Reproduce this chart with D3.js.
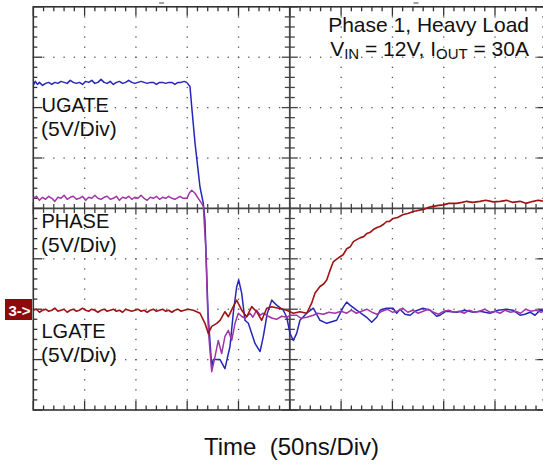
<!DOCTYPE html>
<html>
<head>
<meta charset="utf-8">
<script src="https://cdn.jsdelivr.net/npm/d3@7"></script>
<style>
  html, body { margin: 0; padding: 0; background: #fff; }
  svg { display: block; }
  text { font-family: "Liberation Sans", Arial, Helvetica, sans-serif; fill: #111; }
</style>
</head>
<body>
<svg id="chart" width="543" height="464"></svg>
<script>
// ---- Data (time in ns, display voltage in V at 5 V/div) ----
const ugate = [
  [0,12.2],[2,12.6],[4,12.3],[6,12.5],[9,12.2],[12,12.4],[15,12.5],[18,12.3],[21,12.5],[24,12.4],
  [27,12.6],[30,12.5],[33,12.4],[36,12.7],[39,12.5],[42,12.4],[45,12.5],[48,12.3],[51,12.6],[54,12.5],
  [57,12.7],[60,12.4],[63,12.5],[66,12.8],[69,12.5],[72,12.4],[75,12.6],[78,12.3],[81,12.5],[84,12.6],
  [87,12.4],[90,12.5],[93,12.7],[96,12.5],[99,12.4],[102,12.5],[105,12.6],[108,12.5],[111,12.4],[114,12.5],
  [117,12.5],[120,12.3],[123,12.5],[126,12.5],[129,12.4],[132,12.5],[135,12.5],[138,12.3],[141,12.5],
  [144,12.5],[147,12.6],[149.5,12.5],[152.7,12.1],[154.4,10.1],[157.6,6.5],[162.5,2.1],[165.7,0.5],
  [167.3,-1.2],[170.3,-10.4],[173.9,-15.7],[175.4,-15.0],[182,-15.0],[186.8,-15.9],[191.7,-13.7],
  [194.9,-10.4],[198.2,-7.8],[200.2,-7.1],[203.1,-8.4],[206.3,-11.1],[209.6,-11.4],[216.1,-13.4],
  [221,-14.2],[224.2,-12.7],[228.1,-10.4],[232.4,-9.1],[237.2,-9.6],[243.7,-10.1],[247,-10.8],
  [250.2,-12.4],[253.4,-13.1],[256.7,-12.4],[259.9,-11.1],[266.5,-10.4],[272.9,-9.9],[279.4,-11.1],
  [286,-11.4],[295.7,-11.1],[302.1,-9.8],[305.4,-9.3],[308.7,-9.6],[315.2,-10.1],[324.9,-10.8],
  [329.8,-11.3],[334.7,-10.8],[338,-10.1],[344,-9.9],[350.6,-9.9],[354.2,-10.4],[357.4,-10.0],
  [362.3,-10.5],[367.3,-10.6],[372,-10.2],[379.8,-9.9],[386.6,-10.1],[393.2,-10.7],[396.4,-10.6],
  [402.2,-10.2],[412.7,-10.3],[420.8,-10.1],[428.6,-10.3],[435.4,-10.2],[445.1,-10.4],[452.9,-10.1],
  [461.4,-10.0],[467.5,-10.1],[474.4,-10.6],[479.2,-10.5],[484.1,-10.3],[489,-10.6],[493.9,-10.1],[500,-10.2]
];
const phase = [
  [0,1.0],[3,1.2],[6,0.8],[9,1.1],[12,0.9],[15,1.2],[18,1.0],[21,0.7],[24,1.1],[27,1.0],
  [30,1.3],[33,0.9],[36,1.1],[39,1.2],[42,0.9],[45,1.0],[48,1.2],[51,0.8],[54,1.1],[57,1.0],
  [60,1.3],[63,1.0],[66,0.9],[69,1.1],[72,1.2],[75,0.9],[78,1.0],[81,1.2],[84,0.8],[87,1.1],
  [90,1.0],[93,1.2],[96,0.9],[99,1.1],[102,1.0],[105,1.3],[108,1.0],[111,0.8],[114,1.1],[117,1.0],
  [120,1.2],[123,0.9],[126,1.1],[129,1.0],[132,1.2],[135,1.0],[138,0.9],[143,1.2],[146,1.0],
  [149.8,1.0],[152,1.5],[154.4,1.8],[157.6,1.5],[160.8,1.0],[164.1,0.5],[165.7,0.2],[168,-3.8],
  [170.6,-12.1],[173.9,-16.2],[177.1,-14.7],[180.3,-13.1],[183.6,-14.4],[186.8,-12.7],[190.1,-12.1],
  [193.4,-13.1],[196.6,-11.4],[199.8,-10.4],[203,-10.7],[206.3,-10.9],[211.2,-10.4],[214,-10.8],
  [217.7,-10.1],[221,-10.6],[224.2,-10.4],[229,-10.7],[233,-10.9],[237.2,-11.0],[242,-10.7],
  [247,-10.8],[251,-10.6],[256.7,-10.6],[261,-10.9],[266.5,-10.8],[272.9,-10.6],[277,-10.4],
  [282.7,-10.5],[288,-10.3],[294,-10.4],[300,-10.2],[305.5,-10.4],[310,-10.1],[315,-10.4],
  [320,-10.2],[325,-10.0],[330,-10.3],[335,-10.5],[340,-10.2],[345,-10.0],[350,-10.3],[355,-10.2],
  [360,-9.9],[365,-10.3],[370,-10.1],[375,-10.4],[380,-10.2],[385,-10.0],[390,-10.3],[395,-10.5],
  [400,-10.2],[405,-10.1],[410,-10.3],[415,-10.2],[420,-10.4],[425,-10.1],[430,-10.3],[435,-10.2],
  [440,-10.0],[445,-10.3],[450,-10.2],[455,-10.4],[460,-10.1],[465,-10.3],[470,-10.2],[475,-10.4],
  [480,-10.0],[485,-10.2],[490,-10.1],[495,-10.3],[500,-10.1]
];
const lgate = [
  [0,-10.1],[3,-10.0],[6,-10.3],[9,-10.1],[12,-10.0],[15,-10.2],[18,-10.1],[21,-9.9],[24,-10.2],[27,-10.1],
  [30,-10.0],[33,-10.3],[36,-10.1],[39,-10.0],[42,-10.2],[45,-10.1],[48,-9.9],[51,-10.1],[54,-10.2],[57,-10.0],
  [60,-10.1],[63,-10.3],[66,-10.1],[69,-10.0],[72,-10.2],[75,-10.1],[78,-10.0],[81,-10.2],[84,-10.1],[87,-10.3],
  [90,-10.0],[93,-10.1],[96,-10.2],[99,-10.1],[102,-10.0],[105,-10.2],[108,-10.1],[111,-10.3],[114,-10.1],[117,-10.0],
  [120,-10.2],[123,-10.1],[126,-10.0],[129,-10.2],[132,-10.1],[135,-10.3],[138,-10.1],[141,-10.0],[144,-10.2],
  [147,-10.1],[151,-10.0],[156,-10.1],[162.5,-10.4],[167.3,-11.4],[170.6,-12.4],[173.9,-11.7],
  [178.8,-11.4],[182,-11.1],[186.8,-10.25],[190.1,-10.75],[194.9,-9.75],[198.2,-9.1],[203.1,-10.1],
  [208,-10.75],[212.9,-9.75],[217.7,-10.25],[222.6,-11.1],[227.5,-9.9],[232.4,-9.75],[238.8,-9.9],
  [247,-10.1],[253.4,-10.4],[259.9,-10.25],[266.5,-10.4],[271.3,-9.4],[274.6,-8.4],[279.4,-7.75],
  [283,-7.5],[286,-7.1],[289,-6.2],[292.4,-5.3],[296,-5.0],[299,-4.8],[302,-4.6],[305.5,-4.0],
  [309,-3.8],[312,-3.3],[315.2,-3.1],[319,-2.9],[322,-2.8],[325,-2.5],[328,-2.4],[331.4,-2.1],
  [335,-1.9],[338,-1.8],[341,-1.6],[344.4,-1.3],[347,-1.3],[350.9,-1.0],[355,-0.9],[360.6,-0.6],
  [365,-0.5],[370.4,-0.3],[375,-0.2],[380.1,-0.1],[385,0.1],[389.9,0.2],[395,0.3],[399.6,0.35],
  [405,0.5],[412.7,0.5],[418,0.6],[422.4,0.7],[428,0.6],[435.4,0.7],[441,0.8],[448.3,0.65],
  [455,0.7],[461.4,0.8],[467,0.6],[474.4,0.7],[480,0.5],[487.3,0.7],[492,0.8],[495.5,0.75],[500,0.7]
];
const traceNames = ["UGATE", "PHASE", "LGATE"];
const channelLabels = [
  ["UGATE", "(5V/Div)"],
  ["PHASE", "(5V/Div)"],
  ["LGATE", "(5V/Div)"]
];
const xTitle = "Time  (50ns/Div)";
const markerText = "3->";
const infoLine1 = "Phase 1, Heavy Load";

// ---- Layout ----
const svg = d3.select("#chart");
const x = d3.scaleLinear().domain([0, 500]).range([33.3, 546.3]);
const y = d3.scaleLinear().domain([-20, 20]).range([410, 6.8]);
const x0 = x(0), x1 = x(500), yT = y(20), yB = y(-20);

const minorX = d3.range(0, 501, 10);
const majorX = d3.range(0, 501, 50);
const minorY = d3.range(-20, 21, 1);
const majorY = d3.range(-20, 21, 5);

// grid dots
const g = svg.append("g");
const dots = [];
majorX.filter(t => t > 0 && t < 500 && t !== 250).forEach(t => {
  minorY.forEach(v => dots.push([x(t), y(v)]));
});
majorY.filter(v => v > -20 && v < 20 && v !== 0).forEach(v => {
  minorX.forEach(t => dots.push([x(t), y(v)]));
});
g.selectAll("rect.dot").data(dots).join("rect")
  .attr("class", "dot")
  .attr("x", d => d[0] - 0.6).attr("y", d => d[1] - 0.6)
  .attr("width", 1.3).attr("height", 1.3).attr("fill", "#555");

// center crosshair
g.append("line").attr("x1", x0).attr("x2", x1).attr("y1", y(0)).attr("y2", y(0))
  .attr("stroke", "#444").attr("stroke-width", 1.8);
g.append("line").attr("x1", x(250)).attr("x2", x(250)).attr("y1", yT).attr("y2", yB)
  .attr("stroke", "#444").attr("stroke-width", 1.8);
minorX.forEach(t => {
  const L = (t % 50 === 0) ? 6 : 4.5;
  g.append("line").attr("x1", x(t)).attr("x2", x(t)).attr("y1", y(0) - L).attr("y2", y(0) + L)
    .attr("stroke", "#444").attr("stroke-width", 1.3);
});
minorY.forEach(v => {
  const L = (v % 5 === 0) ? 8 : 5;
  g.append("line").attr("x1", x(250) - L).attr("x2", x(250) + L).attr("y1", y(v)).attr("y2", y(v))
    .attr("stroke", "#444").attr("stroke-width", 1.3);
});

// border + inward ticks
g.append("rect").attr("x", x0).attr("y", yT).attr("width", x1 - x0).attr("height", yB - yT)
  .attr("fill", "none").attr("stroke", "#333").attr("stroke-width", 1.6);
minorX.forEach(t => {
  const L = (t % 50 === 0) ? 9 : 4.5;
  g.append("line").attr("x1", x(t)).attr("x2", x(t)).attr("y1", yT).attr("y2", yT + L)
    .attr("stroke", "#333").attr("stroke-width", 1.3);
  g.append("line").attr("x1", x(t)).attr("x2", x(t)).attr("y1", yB).attr("y2", yB - L)
    .attr("stroke", "#333").attr("stroke-width", 1.3);
});
minorY.forEach(v => {
  const L = (v % 5 === 0) ? 9 : 4;
  g.append("line").attr("x1", x0).attr("x2", x0 + L).attr("y1", y(v)).attr("y2", y(v))
    .attr("stroke", "#333").attr("stroke-width", 1.3);
  g.append("line").attr("x1", x1).attr("x2", x1 - L).attr("y1", y(v)).attr("y2", y(v))
    .attr("stroke", "#333").attr("stroke-width", 1.3);
});

// small position marks above the frame
[125, 373].forEach(t => {
  svg.append("line").attr("x1", x(t) - 2.5).attr("x2", x(t) + 2.5).attr("y1", 3).attr("y2", 3)
    .attr("stroke", "#666").attr("stroke-width", 1.2);
});

// traces
const line = d3.line().x(d => x(d[0])).y(d => y(d[1]));
const colors = { UGATE: "#2626b8", PHASE: "#a035a8", LGATE: "#a01212" };
const series = { UGATE: ugate, PHASE: phase, LGATE: lgate };
svg.append("clipPath").attr("id", "clip").append("rect")
  .attr("x", x0).attr("y", yT).attr("width", x1 - x0).attr("height", yB - yT);
const tg = svg.append("g").attr("clip-path", "url(#clip)");
traceNames.forEach(n => {
  tg.append("path").datum(series[n]).attr("d", line)
    .attr("fill", "none").attr("stroke", colors[n])
    .attr("stroke-width", n === "LGATE" ? 1.6 : 1.5).attr("stroke-linejoin", "round");
});

// channel labels
const labelPos = [111.5, 227.5, 337.5];
channelLabels.forEach((lab, i) => {
  lab.forEach((s, j) => {
    svg.append("text").attr("x", j === 0 ? 41.5 : 41).attr("y", labelPos[i] + j * 24)
      .attr("font-size", j === 0 ? 20 : 21).text(s);
  });
});

// info text (top right)
svg.append("text").attr("x", 529).attr("y", 32).attr("text-anchor", "end")
  .attr("font-size", 21).text(infoLine1);
const t2 = svg.append("text").attr("x", 529).attr("y", 56).attr("text-anchor", "end")
  .attr("font-size", 21);
t2.append("tspan").text("V");
t2.append("tspan").attr("font-size", 15).attr("dy", 3).text("IN");
t2.append("tspan").attr("dy", -3).text(" = 12V, I");
t2.append("tspan").attr("font-size", 15).attr("dy", 3).text("OUT");
t2.append("tspan").attr("dy", -3).text(" = 30A");

// x title
svg.append("text").attr("x", 291.5).attr("y", 455).attr("text-anchor", "middle")
  .attr("font-size", 24).style("white-space", "pre").text(xTitle);

// channel 3 ground marker
svg.append("rect").attr("x", 5).attr("y", 299).attr("width", 27).attr("height", 21)
  .attr("fill", "#8c0c0c");
svg.append("text").attr("x", 8.5).attr("y", 315.5).attr("font-size", 15)
  .attr("font-weight", "bold").style("fill", "#fff").text(markerText);
</script>
</body>
</html>
